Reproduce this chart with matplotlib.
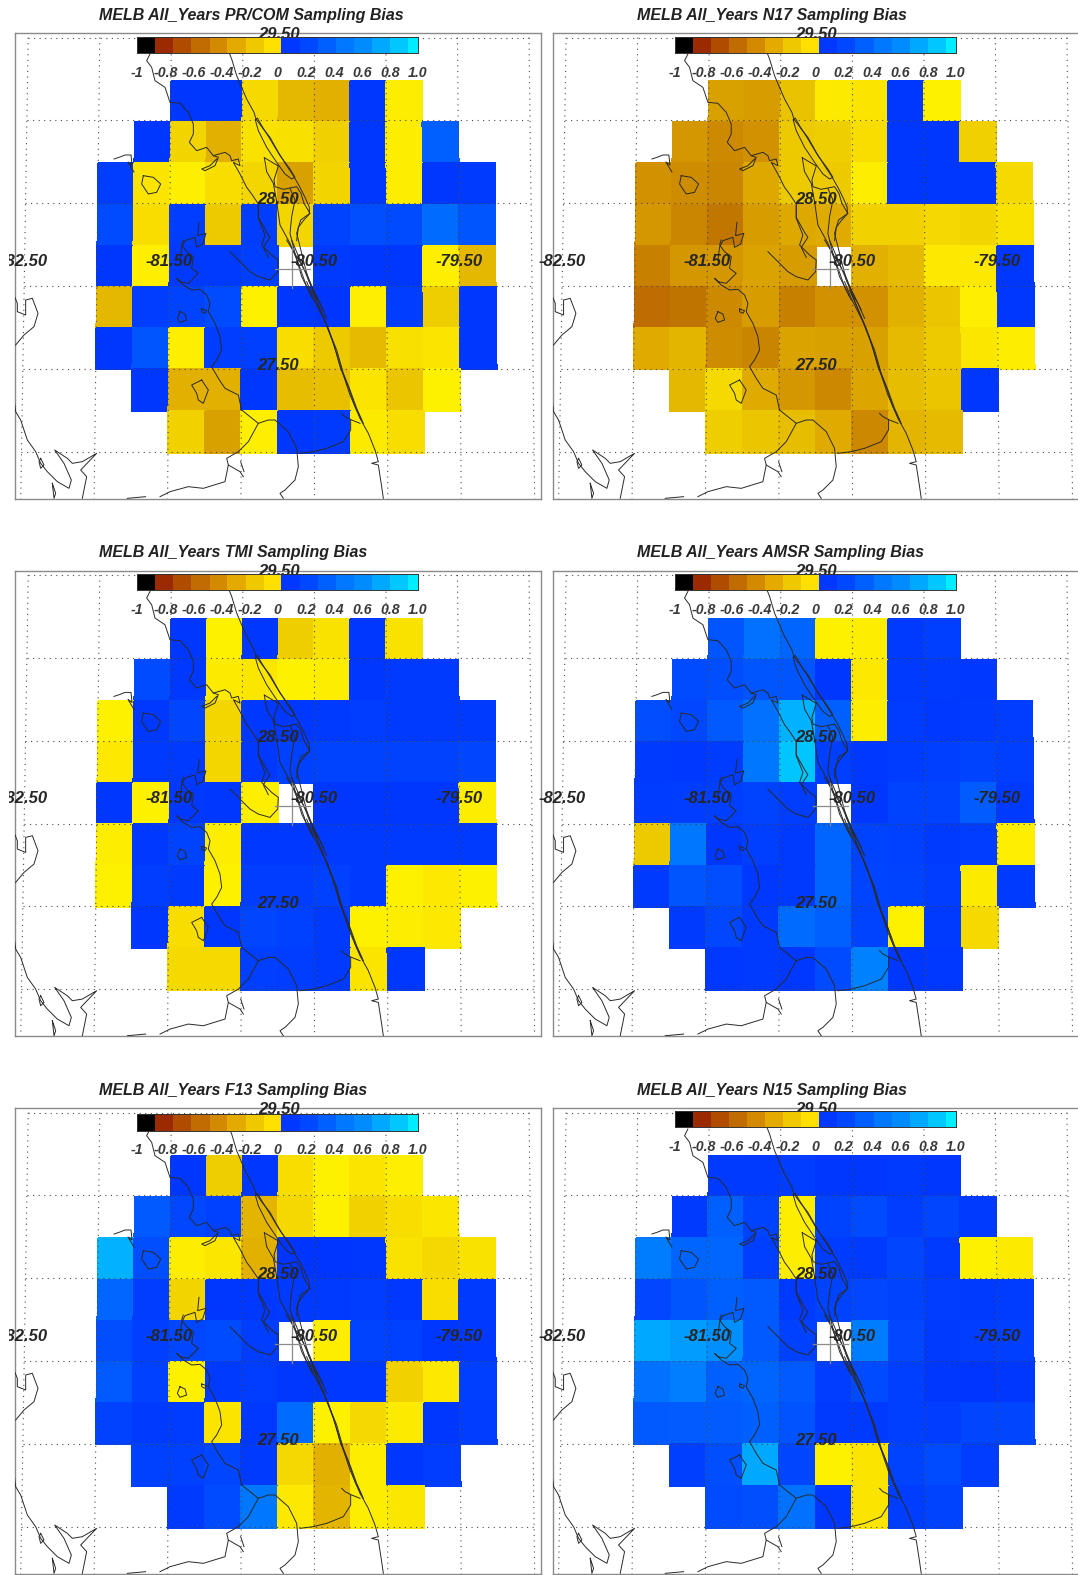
import numpy as np
import matplotlib
matplotlib.use("Agg")
import matplotlib.pyplot as plt
from matplotlib.colors import LinearSegmentedColormap, ListedColormap, Normalize
from matplotlib.transforms import Bbox

plt.rcParams['font.family'] = ['Liberation Sans', 'DejaVu Sans']

NA = np.nan
TITLES = ["PR/COM", "N17", "TMI", "AMSR", "F13", "N15"]
LON_EDGES = [-82.0, -81.75, -81.5, -81.25, -81.0, -80.75, -80.5, -80.25, -80.0, -79.75, -79.5, -79.25]
LAT_EDGES = [29.236, 28.989, 28.741, 28.492, 28.242, 27.995, 27.746, 27.498, 27.247, 26.995]

PR_COM = [
 [NA,NA,.05,.05,-.12,-.27,-.30,.05,-.03,NA,NA],
 [NA,.05,-.15,-.30,-.08,-.09,-.17,.05,-.03,.30,NA],
 [.10,-.07,-.02,-.10,-.14,-.36,-.15,.05,-.03,.05,.08],
 [.20,-.10,.10,-.20,.10,-.14,.15,.22,.20,.35,.25],
 [.05,-.02,.07,.08,.12,NA,.07,.05,.05,-.02,-.27],
 [-.27,.10,.15,.20,-.01,.05,.04,-.02,.10,-.18,.05],
 [.05,.25,-.02,.10,.12,-.10,-.20,-.26,-.09,-.07,.05],
 [NA,.05,-.30,-.30,.05,-.25,-.24,-.07,-.22,-.01,NA],
 [NA,NA,-.16,-.36,-.02,.05,.08,-.04,-.10,NA,NA],
]
N17 = [
 [NA,NA,-.36,-.38,-.23,-.04,-.07,.05,-.01,NA,NA],
 [NA,-.40,-.45,-.42,-.20,-.18,-.10,.05,.05,-.17,NA],
 [-.42,-.44,-.47,-.33,-.20,-.20,-.03,.05,.05,.05,-.12],
 [-.40,-.47,-.55,-.38,-.33,-.32,-.16,-.16,-.13,-.15,-.08],
 [-.50,-.40,-.40,-.35,-.38,NA,-.30,-.26,-.05,-.05,.05],
 [-.58,-.56,-.45,-.38,-.50,-.42,-.42,-.30,-.22,-.02,.05],
 [-.32,-.28,-.44,-.48,-.35,-.36,-.36,-.26,-.20,-.06,-.03],
 [NA,-.27,-.12,-.32,-.40,-.46,-.34,-.25,-.22,.05,NA],
 [NA,NA,-.18,-.22,-.25,-.32,-.46,-.28,-.26,NA,NA],
]
TMI = [
 [NA,NA,.05,-.01,.05,-.18,-.08,.05,-.08,NA,NA],
 [NA,.20,.06,-.04,-.06,-.01,-.03,.05,.07,.07,NA],
 [-.01,.06,.17,-.14,.06,.06,.07,.10,.07,.07,.08],
 [-.05,.07,.07,-.14,.06,.13,.15,.15,.14,.14,.17],
 [.05,-.01,.06,.05,-.02,NA,.05,.05,.05,.05,-.03],
 [-.03,.06,.15,-.03,.06,.06,.07,.08,.07,.07,.07],
 [-.01,.10,.08,-.01,.10,.10,.13,.08,-.01,-.05,-.01],
 [NA,.05,-.10,.05,.17,.13,.08,-.01,-.03,-.05,NA],
 [NA,NA,-.12,-.12,.12,.10,.08,-.07,.05,NA,NA],
]
AMSR = [
 [NA,NA,.25,.38,.32,-.01,-.03,.07,.12,NA,NA],
 [NA,.20,.22,.25,.25,.05,-.05,.08,.08,.06,NA],
 [.22,.18,.27,.38,.72,.30,-.03,.09,.06,.07,.10],
 [.07,.06,.09,.40,.80,.12,.06,.09,.12,.15,.12],
 [.09,.10,.12,.15,.10,NA,.05,.15,.15,.28,.07],
 [-.20,.40,.05,.12,.08,.32,.15,.13,.08,.10,-.02],
 [.08,.25,.22,.06,.08,.32,.16,.15,.10,-.04,.07],
 [NA,.08,.18,.08,.35,.30,.15,-.01,.07,-.12,NA],
 [NA,NA,.06,.08,.06,.20,.45,.05,.06,NA,NA],
]
F13 = [
 [NA,NA,.05,-.18,.05,-.10,-.01,-.07,-.02,NA,NA],
 [NA,.27,.18,.13,-.28,-.13,-.01,-.16,-.10,-.06,NA],
 [.72,.22,-.03,-.06,-.30,.04,.04,.05,-.08,-.13,-.08],
 [.33,.10,-.15,.05,.06,.08,.08,.10,.06,-.10,.07],
 [.22,.12,.18,.20,.10,NA,-.03,.15,.13,.05,.06],
 [.27,.13,-.01,.08,.10,.05,.06,.06,-.16,-.05,.12],
 [.14,.08,.09,-.07,.06,.35,-.01,-.13,-.04,.05,.10],
 [NA,.13,.13,.17,.08,-.13,-.30,-.03,.05,.10,NA],
 [NA,NA,.07,.20,.40,-.05,-.28,-.03,-.06,NA,NA],
]
N15 = [
 [NA,NA,.08,.07,.10,.05,.05,.07,.05,NA,NA],
 [NA,.08,.30,.15,-.03,.15,.20,.10,.17,.07,NA],
 [.42,.32,.33,.12,-.03,.09,.08,.17,.07,-.01,-.04],
 [.18,.25,.30,.27,.07,.15,.18,.15,.10,.07,.09],
 [.68,.62,.55,.27,.13,NA,.42,.18,.07,.10,.12],
 [.38,.43,.30,.32,.27,.10,.20,.12,.05,.04,.05],
 [.27,.28,.28,.30,.24,.08,.07,.12,.10,.17,.17],
 [NA,.12,.22,.68,.17,-.01,-.07,.15,.20,.10,NA],
 [NA,NA,.20,.22,.38,.05,-.07,.10,.15,NA,NA],
]
PANELS = [PR_COM, N17, TMI, AMSR, F13, N15]

TICK_VALUES = [-1, -.8, -.6, -.4, -.2, 0, .2, .4, .6, .8, 1.0]
TICK_LABELS = ["-1", "-0.8", "-0.6", "-0.4", "-0.2", "0", "0.2", "0.4", "0.6", "0.8", "1.0"]
BAR_COLORS = ["#000000", "#9C2A00", "#B04C00", "#C06C00", "#D48A00", "#E4AA00", "#F0C800", "#FFE000",
              "#0038FF", "#0048FF", "#0060FF", "#0078FF", "#008CFF", "#00A8FF", "#00C8FF", "#00EEFF"]
BAR_EDGES = [-1, -.872, -.743, -.615, -.486, -.358, -.229, -.101, .027, .156, .284, .413, .541, .670, .798, .926, 1.0]

CMAP_VALUES = [-1, -.94, -.81, -.69, -.56, -.44, -.31, -.19, -.06, 0, 0, .06, .19, .31, .44, .56, .69, .81, .94, 1]
CMAP_COLORS = ["#000000", "#000000", "#9C2A00", "#B04C00", "#C07400", "#CE8C00", "#E0AE00", "#EECC00", "#FBE600", "#FFF400",
               "#0030FF", "#0038FF", "#0048FF", "#0062FF", "#0080FF", "#0090FF", "#00AAFF", "#00C8FF", "#00EEFF", "#00F4FF"]

LAT_LABELS = [29.5, 28.5, 27.5]
LON_LABELS = [-82.5, -81.5, -80.5, -79.5]

# coastline and lake outlines: (crop left, crop top, points at 3x)
COASTS = [
 # Atlantic shore north of the cape
 (130, 34, [(295,50),(305,75),(320,125),(337,165),(350,195),(372,235),(378,255),(400,285),(420,310),(445,355),(470,395),(490,425),(510,460),(525,490),(538,520),(538,540),(520,560),(505,580),(500,620)]),
 # lagoon lens
 (130, 34, [(376,258),(382,252),(395,275),(420,315),(450,365),(480,405),(495,430),(485,435),(465,420),(440,385),(410,340),(385,290),(376,258)]),
 # Merritt Island and inner lines
 (230, 130, [(103,83),(145,108),(132,150),(135,170),(160,178),(200,170),(213,190),(222,220),(240,250),(212,270),(200,310),(215,370),(235,450),(262,510)]),
 (230, 130, [(103,83),(110,125),(130,160),(140,215),(150,285),(180,340),(205,400),(230,470),(250,510)]),
 (230, 130, [(180,175),(195,210),(185,260),(180,310),(195,370),(215,440),(245,500)]),
 # mainland shore and St Johns
 (130, 34, [(60,60),(50,80),(65,100),(75,140),(105,160),(120,205),(150,208),(175,235),(190,270),(190,300),(178,325),(200,350),(230,340),(250,365),(285,355),(300,365),(305,380),(325,375),(330,395),(310,385),(330,420),(350,460),(365,480),(385,510),(385,550),(410,595),(420,610),(400,640),(415,670)]),
 (130, 34, [(250,365),(265,370),(255,395),(225,410),(215,405),(240,395),(260,375)]),
 (230, 130, [(85,225),(85,265),(105,315),(95,345),(125,375),(145,390),(143,425),(120,450),(85,440),(60,425),(30,395),(0,365)]),
 (130, 34, [(207,565),(203,605),(228,598),(218,630),(200,640),(195,610),(165,620),(155,640),(150,680)]),
 (160, 240, [(70,0),(65,15),(80,35),(100,50),(95,85),(115,100),(100,115),(85,130),(60,125),(50,115),(70,135),(95,150),(120,148),(140,165),(150,190),(145,215),(165,250),(180,290),(185,330),(170,360),(155,380),(175,415),(195,445),(235,465),(245,510),(295,550),(265,605),(235,635),(200,655),(205,675),(240,695),(250,710)]),
 (160, 240, [(295,550),(325,540),(345,540),(385,575),(410,625),(415,680),(405,720),(375,750),(360,760),(370,775)]),
 (160, 240, [(205,675),(195,725),(130,745),(85,740),(30,755),(0,770)]),
 # barrier lines to the south
 (160, 240, [(380,0),(410,50),(440,100),(460,150),(490,210)]),
 (160, 240, [(395,0),(420,60),(450,130),(480,190),(500,235)]),
 (300, 280, [(35,20),(45,50),(65,100),(90,160),(110,210),(130,280),(150,330),(170,385),(190,430)]),
 (300, 280, [(35,30),(55,75),(85,145),(105,205),(120,260),(145,320),(165,380),(185,420)]),
 (300, 280, [(20,5),(40,55),(75,125),(100,190),(125,270),(150,345),(180,415),(205,460),(225,510),(235,545),(215,550),(235,555),(245,620),(250,655)]),
 (300, 280, [(125,400),(135,410),(155,420),(180,430)]),
 (300, 280, [(152,420),(152,450),(130,485),(80,505),(40,515),(0,520)]),
 # lakes
 (160, 240, [(60,215),(75,222),(80,240),(60,247),(52,235),(60,215)]),
 (160, 240, [(125,207),(140,212),(135,220),(125,215),(125,207)]),
 (160, 240, [(125,420),(145,450),(130,490),(115,480),(110,460),(95,435),(125,420)]),
 (160, 240, [(242,665),(252,695)]),
 (130, 34, [(40,425),(70,430),(92,450),(80,475),(55,480),(35,450),(40,425)]),
 # Gulf side
 (14, 280, [(0,45),(10,70),(10,95),(35,105),(35,60),(55,55),(72,100),(60,140),(30,165),(5,195)]),
 (14, 280, [(0,355),(5,395),(20,420),(40,480),(65,515),(80,550),(100,575),(130,605),(165,625),(172,600),(150,550),(122,510),(160,535),(175,550),(205,545),(248,520),(200,570),(218,590),(205,655)]),
 (14, 280, [(80,535),(90,555),(80,565),(75,545),(80,535)]),
 (14, 280, [(115,610),(125,640),(120,655),(115,610)]),
 (14, 280, [(340,655),(395,650)]),
 (0, 0, [(342,477),(360,471),(375,465),(393,465),(396,495),(384,486),(402,516)]),
]
RADAR_MARK = [(160, 240, [(345,87),(450,87)]), (160, 240, [(395,18),(395,144)])]

FIG_W, FIG_H = 1078, 1575
FRAME_W, FRAME_H = 526.2, 465.7
FRAME_POS = [(14.8, 33.3), (552.7, 33.3), (14.8, 570.7), (552.7, 570.7), (14.8, 1108.3), (552.7, 1108.3)]
TITLE_POS = [(99.2, 15.7), (637, 15.7), (99.2, 552.7), (637, 552.7), (99.2, 1090.3), (637, 1090.3)]
BAR_TOP = [3.4, 3.4, 3.0, 3.0, 5.7, 2.4]
TICK_Y = [39.7, 39.7, 39.3, 39.3, 42.0, 38.4]

# map scale and origin, relative to the first panel's pixels
UNIT_X, UNIT_Y = 164.4, 165.7
X0_PX, Y0_PX = 314.4, 203.3

def project(lon, lat):
    lon, lat = np.asarray(lon, float), np.asarray(lat, float)
    return (lon + 80.5) * np.cos(np.radians(lat)), lat

def traced(ox, oy, points):
    p = np.array(points, float)
    return (ox + p[:, 0] / 3.0 - X0_PX) / UNIT_X, 28.5 - (oy + p[:, 1] / 3.0 - Y0_PX) / UNIT_Y

cmap = LinearSegmentedColormap.from_list(
    "bias", [((v + 1) / 2, c) for v, c in zip(CMAP_VALUES, CMAP_COLORS)], N=1024)
norm = Normalize(-1, 1)
bar_cmap = ListedColormap(BAR_COLORS)

fig = plt.figure(figsize=(FIG_W / 100, FIG_H / 100), dpi=100, facecolor="white")
FONT = dict(fontweight="bold", fontstyle="italic")
left_clip = Bbox.from_extents(8.6, 0, FIG_W, FIG_H)

for i, (name, values) in enumerate(zip(TITLES, PANELS)):
    fx, fy = FRAME_POS[i]
    ax = fig.add_axes([fx / FIG_W, 1 - (fy + FRAME_H) / FIG_H, FRAME_W / FIG_W, FRAME_H / FIG_H], zorder=i)
    ax.set_xlim((14.8 - X0_PX) / UNIT_X, (14.8 + FRAME_W - X0_PX) / UNIT_X)
    ax.set_ylim(28.5 - (33.3 + FRAME_H - Y0_PX) / UNIT_Y, 28.5 - (33.3 - Y0_PX) / UNIT_Y)
    ax.set_xticks([]); ax.set_yticks([])
    for s in ax.spines.values():
        s.set_color("#8a8a8a"); s.set_linewidth(1.0)

    lon2, lat2 = np.meshgrid(LON_EDGES, LAT_EDGES)
    X, Y = project(lon2, lat2)
    ax.pcolormesh(X, Y, np.ma.masked_invalid(np.array(values, float)), cmap=cmap, norm=norm,
                  shading="flat", edgecolors="face", linewidth=0.15, zorder=1)

    # graticule
    grid_lons = [-82.5, -82, -81.5, -81, -80.5, -80, -79.5, -79]
    grid_lats = [29.5, 29, 28.5, 28, 27.5, 27]
    for g in grid_lons:
        gx, gy = project([g, g], [29.5, 26.5])
        ax.plot(gx, gy, color="#4a4a4a", lw=0.8, dashes=(1, 4), zorder=2)
    for g in grid_lats:
        gx, gy = project([-82.5, -79], [g, g])
        ax.plot(gx, gy, color="#4a4a4a", lw=0.8, dashes=(1, 4), zorder=2)

    for ox, oy, line in COASTS:
        cx, cy = traced(ox, oy, line)
        ax.plot(cx, cy, color="#2a2a2a", lw=0.7, zorder=3, solid_joinstyle="round")
    for ox, oy, line in RADAR_MARK:
        cx, cy = traced(ox, oy, line)
        ax.plot(cx, cy, color="#8a8a8a", lw=0.9, zorder=3)

    # map labels
    for lat in LAT_LABELS:
        tx, ty = project(-80.75, lat + 0.02)
        ax.text(tx, ty, f"{lat:.2f}", ha="center", va="center", fontsize=12, color="#262626",
                zorder=4, clip_on=False, **FONT)
    for lon in LON_LABELS:
        tx, ty = project(lon, 28.15)
        t = ax.text(tx, ty, f"{lon:.2f}", ha="center", va="center", fontsize=12, color="#262626",
                    zorder=4, clip_on=False, **FONT)
        if i % 2 == 0 and lon == -82.5:
            t.set_clip_on(True)
            t.set_clip_box(left_clip)

    # colour bar
    bx0 = 137.4 + (fx - 14.8)
    bar_h = 16.5
    by0 = fy + BAR_TOP[i]
    bar = fig.add_axes([bx0 / FIG_W, 1 - (by0 + bar_h) / FIG_H, 280.6 / FIG_W, bar_h / FIG_H], zorder=10 + i)
    bar.pcolormesh(BAR_EDGES, [0, 1], np.arange(16).reshape(1, -1), cmap=bar_cmap, vmin=-.5, vmax=15.5)
    bar.set_xlim(-1, 1); bar.set_ylim(0, 1)
    bar.set_xticks([]); bar.set_yticks([])
    for s in bar.spines.values():
        s.set_color("#333333"); s.set_linewidth(0.7)
    label_y = 1 - (TICK_Y[i] - BAR_TOP[i]) / bar_h
    for v, lab in zip(TICK_VALUES, TICK_LABELS):
        bar.text(v, label_y, lab, transform=bar.get_xaxis_transform(), ha="center", va="center",
                 fontsize=10.2, color="#3a3a3a", clip_on=False, **FONT)

    tx, ty = TITLE_POS[i]
    fig.text(tx / FIG_W, 1 - ty / FIG_H, f"MELB All_Years {name} Sampling Bias", ha="left", va="center",
             fontsize=11.5, color="#222222", **FONT)

fig.savefig("out.png", dpi=100)
